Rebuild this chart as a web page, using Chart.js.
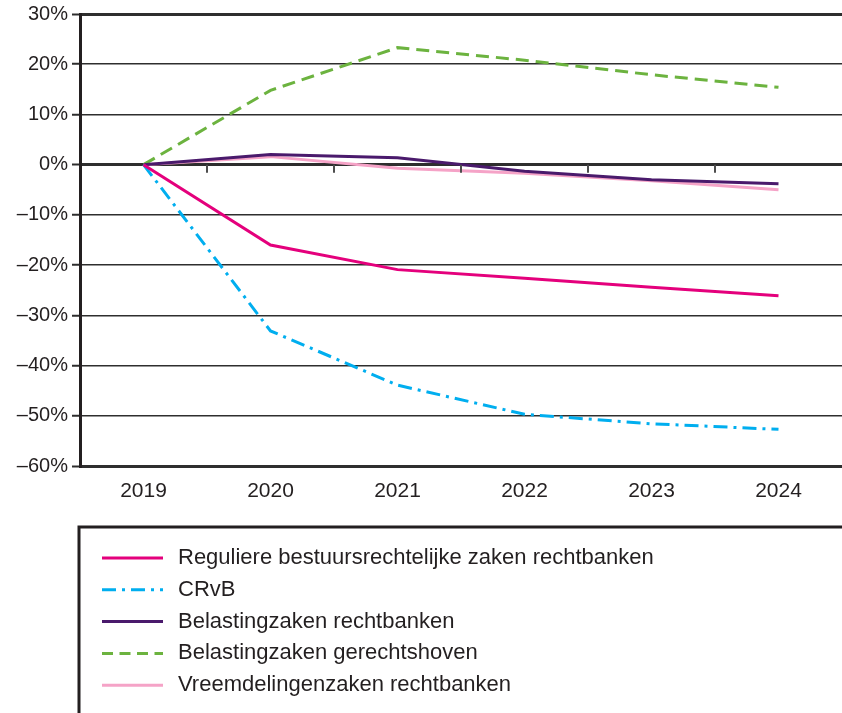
<!DOCTYPE html>
<html>
<head>
<meta charset="utf-8">
<script src="https://cdn.jsdelivr.net/npm/chart.js@4/dist/chart.umd.min.js"></script>
<style>
  html, body { margin: 0; padding: 0; background: #fff; }
  #wrap { width: 842px; height: 713px; position: relative; }
</style>
</head>
<body>
<div id="wrap"><canvas id="c"></canvas></div>
<script>
const categories = ['2019', '2020', '2021', '2022', '2023', '2024'];

const seriesNames = [
  'Reguliere bestuursrechtelijke zaken rechtbanken',
  'CRvB',
  'Belastingzaken rechtbanken',
  'Belastingzaken gerechtshoven',
  'Vreemdelingenzaken rechtbanken'
];

const reguliere = [0, -16.0, -20.9, -22.6, -24.4, -26.1];
const crvb = [0, -33.1, -43.9, -49.7, -51.6, -52.7];
const belastingRb = [0, 2.0, 1.4, -1.3, -3.0, -3.8];
const belastingHof = [0, 14.8, 23.3, 20.8, 17.9, 15.4];
const vreemdelingen = [0, 1.6, -0.7, -1.7, -3.2, -5.0];

const yTicks = [30, 20, 10, 0, -10, -20, -30, -40, -50, -60];

const textColor = '#231f20';
const fontFamily = "'Liberation Sans', Arial, Helvetica, sans-serif";

function ds(label, data, color, dash) {
  return {
    label: label,
    data: data,
    borderColor: color,
    backgroundColor: color,
    borderWidth: 3,
    borderDash: dash,
    pointRadius: 0,
    pointHoverRadius: 0,
    tension: 0,
    fill: false
  };
}

const datasets = [
  ds(seriesNames[0], reguliere, '#e4007c', []),
  ds(seriesNames[1], crvb, '#00aeef', [14, 6, 3, 6]),
  ds(seriesNames[2], belastingRb, '#4a1a6c', []),
  ds(seriesNames[3], belastingHof, '#6cb33f', [13, 7]),
  ds(seriesNames[4], vreemdelingen, '#f5a3c7', [])
];

const extras = {
  id: 'extras',
  afterDatasetsDraw(chart) {
    const ctx = chart.ctx;
    const xs = chart.scales.x;
    const ys = chart.scales.y;
    const y0 = ys.getPixelForValue(0);
    ctx.save();
    ctx.strokeStyle = '#4d4d4d';
    ctx.lineWidth = 2;
    for (let i = 0; i < categories.length - 1; i++) {
      const x = (xs.getPixelForValue(i) + xs.getPixelForValue(i + 1)) / 2;
      ctx.beginPath();
      ctx.moveTo(x, y0);
      ctx.lineTo(x, y0 + 8);
      ctx.stroke();
    }
    ctx.restore();
  },
  afterDraw(chart) {
    const ctx = chart.ctx;
    const area = chart.chartArea;
    const boxLeft = area.left - 1;
    const boxTop = area.bottom + 61;
    ctx.save();
    ctx.strokeStyle = textColor;
    ctx.lineWidth = 3;
    ctx.beginPath();
    ctx.moveTo(chart.width + 2, boxTop);
    ctx.lineTo(boxLeft, boxTop);
    ctx.lineTo(boxLeft, chart.height + 2);
    ctx.stroke();

    ctx.font = '22px ' + fontFamily;
    ctx.textBaseline = 'middle';
    ctx.textAlign = 'left';
    chart.data.datasets.forEach((d, i) => {
      const y = boxTop + 31 + i * 31.8;
      ctx.strokeStyle = d.borderColor;
      ctx.lineWidth = 3;
      ctx.setLineDash(d.borderDash && d.borderDash.length ? (i === 3 ? [11, 6.5] : d.borderDash) : []);
      ctx.beginPath();
      ctx.moveTo(boxLeft + 23, y);
      ctx.lineTo(boxLeft + 84, y);
      ctx.stroke();
      ctx.setLineDash([]);
      ctx.fillStyle = textColor;
      ctx.fillText(d.label, boxLeft + 99, y);
    });
    ctx.restore();
  }
};

new Chart(document.getElementById('c'), {
  type: 'line',
  data: { labels: categories, datasets: datasets },
  options: {
    responsive: true,
    maintainAspectRatio: false,
    animation: false,
    layout: { padding: { top: 13, right: 0, left: 0, bottom: 0 } },
    plugins: {
      legend: { display: false },
      tooltip: { enabled: false },
      title: { display: false }
    },
    scales: {
      x: {
        type: 'category',
        offset: true,
        grid: { display: false, drawTicks: false },
        border: { display: false },
        ticks: {
          color: textColor,
          font: { size: 21, family: fontFamily },
          padding: 13,
          maxRotation: 0
        },
        afterFit(scale) { scale.height = 247; }
      },
      y: {
        min: -60,
        max: 30,
        afterBuildTicks(scale) { scale.ticks = yTicks.map(v => ({ value: v })); },
        ticks: {
          color: textColor,
          font: { size: 20, family: fontFamily, lineHeight: 1 },
          padding: 4,
          callback: v => (v < 0 ? '\u2013' + Math.abs(v) : v) + '%'
        },
        grid: {
          color: '#2e2e2e',
          lineWidth: c => (c.tick && (c.tick.value === 0 || c.tick.value === 30 || c.tick.value === -60)) ? 3 : 1.5,
          tickLength: 8,
          tickColor: '#2e2e2e',
          tickWidth: 2
        },
        border: { display: true, color: textColor, width: 3 },
        afterFit(scale) { scale.width = 80; }
      }
    }
  },
  plugins: [extras]
});
</script>
</body>
</html>
